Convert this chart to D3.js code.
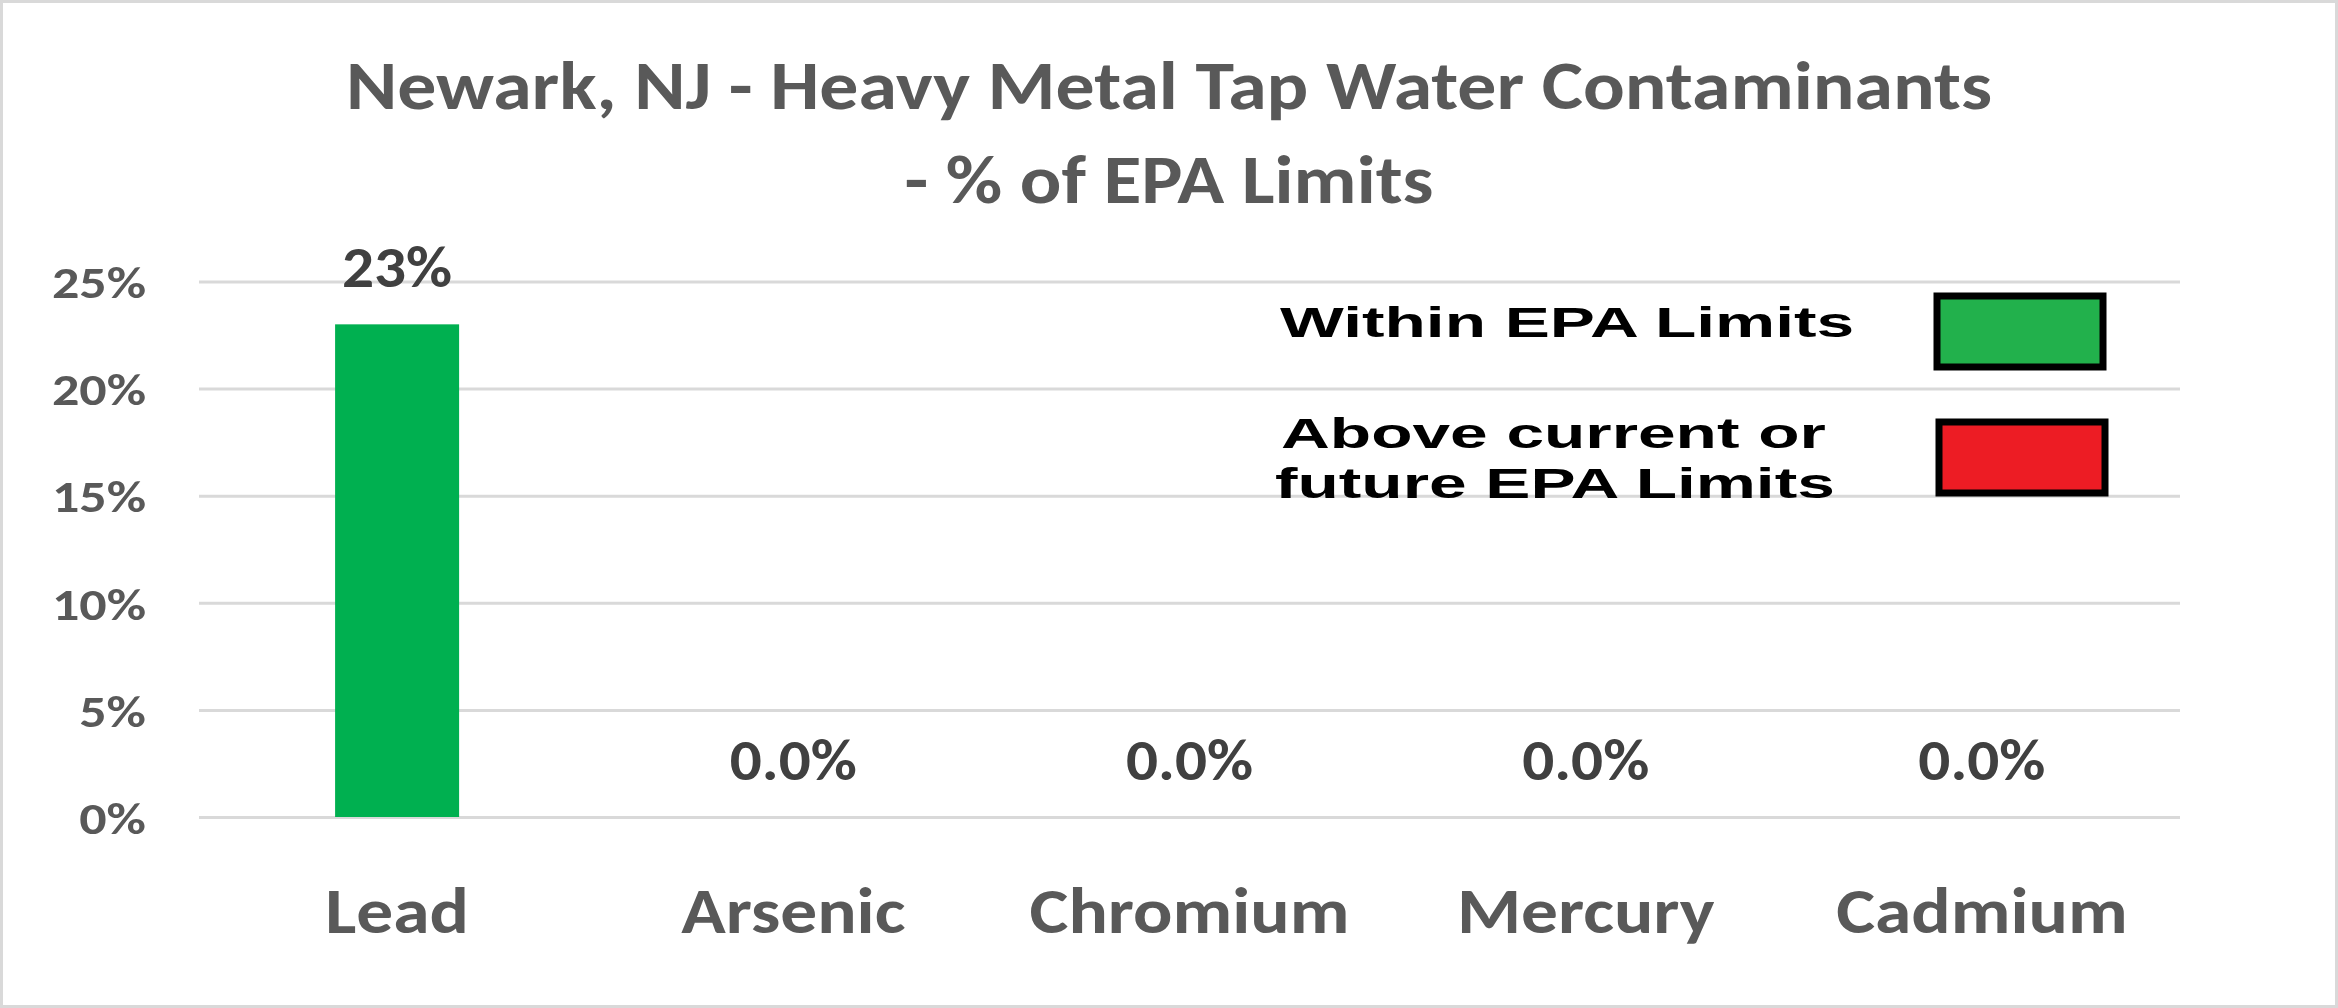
<!DOCTYPE html>
<html>
<head>
<meta charset="utf-8">
<script src="https://cdn.jsdelivr.net/npm/d3@7"></script>
<style>
  body { margin: 0; background: #fff; }
  svg { display: block; }
</style>
</head>
<body>
<div class="chart"></div>
<script>
const w = 2338;
const h = 1008;

// Data
const categories = ['Lead', 'Arsenic', 'Chromium', 'Mercury', 'Cadmium'];
const values = [23, 0, 0, 0, 0];
const valueLabels = ['23%', '0.0%', '0.0%', '0.0%', '0.0%'];
const tickValues = [0, 5, 10, 15, 20, 25];
const titleLines = ['Newark, NJ - Heavy Metal Tap Water Contaminants', '- % of EPA Limits'];
const legendLabels = [['Within  EPA Limits'], ['Above current or', 'future  EPA Limits']];
const legendColors = ['#22b14c', '#ed1c24'];

const mainFont = 'Carlito, Calibri, Lato, sans-serif';
const legendFont = '"Liberation Sans", Arial, Helvetica, sans-serif';
const textGrey = '#595959';

// widen or narrow text in x only, keeping the anchor
function stretchText(sel, factor) {
  sel.each(function () {
    const len = this.getComputedTextLength();
    d3.select(this)
      .attr('textLength', len * factor)
      .attr('lengthAdjust', 'spacingAndGlyphs');
  });
}

const svg = d3
  .select('.chart')
  .append('svg')
  .attr('width', w)
  .attr('height', h);

// Outer border
svg
  .append('rect')
  .attr('x', 1.5)
  .attr('y', 1.5)
  .attr('width', w - 3)
  .attr('height', h - 3)
  .attr('fill', '#fff')
  .attr('stroke', '#d9d9d9')
  .attr('stroke-width', 3);

// Title
const titleWidths = [1646, 529];
const titleBase = [109, 203];
svg
  .selectAll('.title')
  .data(titleLines)
  .enter()
  .append('text')
  .attr('class', 'title')
  .attr('x', w / 2)
  .attr('y', (d, i) => titleBase[i])
  .attr('text-anchor', 'middle')
  .attr('font-family', mainFont)
  .attr('font-weight', 700)
  .attr('font-size', 68)
  .attr('fill', textGrey)
  .attr('textLength', (d, i) => titleWidths[i])
  .attr('lengthAdjust', 'spacingAndGlyphs')
  .text((d) => d);

// Scales
const xScale = d3
  .scaleBand()
  .domain(categories)
  .range([199, 2180])
  .paddingInner(0.687)
  .paddingOuter(0.687 / 2);

const yScale = d3.scaleLinear().domain([0, 25]).range([817, 281.5]);

// Gridlines + left axis
const yAxis = d3
  .axisLeft(yScale)
  .tickValues(tickValues)
  .tickFormat((d) => d + '%')
  .tickSize(-(2180 - 199))
  .tickPadding(53);

const yG = svg
  .append('g')
  .attr('transform', 'translate(199,0)')
  .call(yAxis);
yG.select('.domain').remove();
yG.selectAll('line').attr('stroke', '#d9d9d9').attr('stroke-width', 3);
yG.selectAll('text')
  .attr('font-family', mainFont)
  .attr('font-weight', 700)
  .attr('font-size', 45)
  .attr('fill', textGrey)
  .attr('dy', '0.36em')
  .call(stretchText, 1.2);

// Bars
svg
  .selectAll('.bar')
  .data(values)
  .enter()
  .append('rect')
  .attr('class', 'bar')
  .attr('x', (d, i) => xScale(categories[i]))
  .attr('y', (d) => yScale(d))
  .attr('width', xScale.bandwidth())
  .attr('height', (d) => yScale(0) - yScale(d))
  .attr('fill', '#00b050');

// Value labels
svg
  .selectAll('.value')
  .data(values)
  .enter()
  .append('text')
  .attr('class', 'value')
  .attr('x', (d, i) => xScale(categories[i]) + xScale.bandwidth() / 2)
  .attr('y', (d) => yScale(d) - 37)
  .attr('text-anchor', 'middle')
  .attr('font-family', mainFont)
  .attr('font-weight', 700)
  .attr('font-size', 58)
  .attr('fill', '#404040')
  .text((d, i) => valueLabels[i])
  .call(stretchText, 1.09);

// Bottom axis (category labels)
const xAxis = d3.axisBottom(xScale).tickSize(0);
const xG = svg
  .append('g')
  .attr('transform', 'translate(0,817)')
  .call(xAxis);
xG.select('.domain').remove();
xG.selectAll('text')
  .attr('y', 116)
  .attr('dy', 0)
  .attr('font-family', mainFont)
  .attr('font-weight', 700)
  .attr('font-size', 65)
  .attr('fill', textGrey)
  .call(stretchText, 1.13);

// Legend
const legendText = [[1280], [1281, 1275]];
const legendBase = [[337], [448, 498]];
const legendBoxes = [
  [1937, 296],
  [1939, 422]
];

const legend = svg
  .selectAll('.legend')
  .data(legendLabels)
  .enter()
  .append('g')
  .attr('class', 'legend');

legend
  .append('rect')
  .attr('x', (d, i) => legendBoxes[i][0])
  .attr('y', (d, i) => legendBoxes[i][1])
  .attr('width', 166)
  .attr('height', 71)
  .attr('fill', (d, i) => legendColors[i])
  .attr('stroke', '#000')
  .attr('stroke-width', 7);

legend.each(function (lines, i) {
  d3.select(this)
    .selectAll('text')
    .data(lines)
    .enter()
    .append('text')
    .attr('x', (d, j) => legendText[i][j])
    .attr('y', (d, j) => legendBase[i][j])
    .attr('font-family', legendFont)
    .attr('font-weight', 700)
    .attr('font-size', 42)
    .attr('fill', '#000')
    .text((d) => d)
    .call(stretchText, 1.61);
});
</script>
</body>
</html>
